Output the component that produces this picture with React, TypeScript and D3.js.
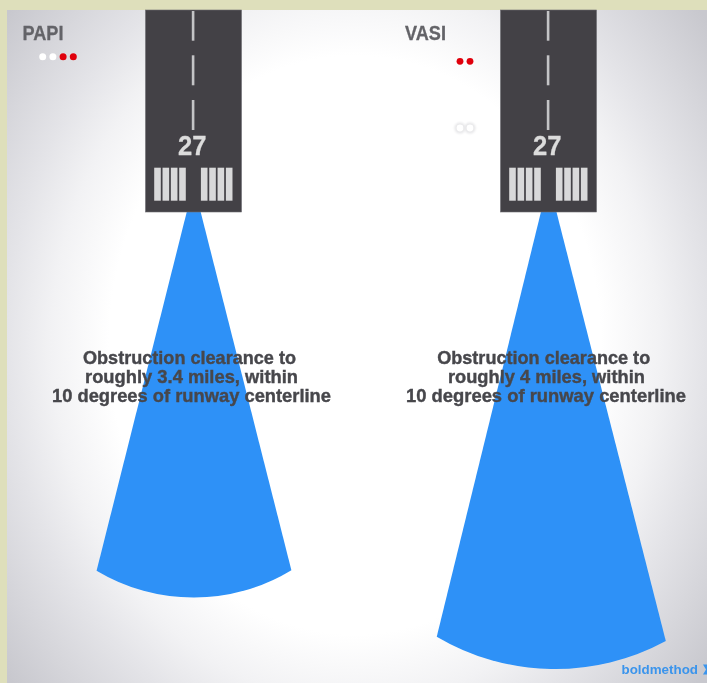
import React from "react";
import * as d3 from "d3";

const W = 707, H = 683;
const panels = ["PAPI", "VASI"];
const captions = [
  ["Obstruction clearance to", "roughly 3.4 miles, within", "10 degrees of runway centerline"],
  ["Obstruction clearance to", "roughly 4 miles, within", "10 degrees of runway centerline"],
];
const runwayNumber = "27";
const RED = "#e0000c";
const papiLights = ["#ffffff", "#ffffff", RED, RED];
const vasiLightRows = [[RED, RED], ["#ffffff", "#ffffff"]];

// Sector geometry, in miles from the threshold
const sectorDepth = [3.375, 4];
const sectorLeftAlong = [3.14, 3.717];
const sectorRightAlong = [3.135, 3.755];
const sectorLeftSide = [-0.85, -0.98];
const sectorRightSide = [0.855, 1.025];
const sectorTopHalf = [0.061, 0.068];

const dashes = [[11, 40.7], [55.3, 85.3], [100, 130]];
const threshold = [0, 1, 2, 3];

const pxPerMile = d3.scaleLinear().domain([0, 4]).range([0, 457]);
const RUNWAY_END = 212;
const centers = [193.7, 548.7];

function circleThrough(a: number[], b: number[], c: number[]) {
  const d = 2 * (a[0] * (b[1] - c[1]) + b[0] * (c[1] - a[1]) + c[0] * (a[1] - b[1]));
  const sq = (p: number[]) => p[0] * p[0] + p[1] * p[1];
  const x = (sq(a) * (b[1] - c[1]) + sq(b) * (c[1] - a[1]) + sq(c) * (a[1] - b[1])) / d;
  const y = (sq(a) * (c[0] - b[0]) + sq(b) * (a[0] - c[0]) + sq(c) * (b[0] - a[0])) / d;
  return { x, y, r: Math.hypot(a[0] - x, a[1] - y) };
}

function sector(i: number) {
  const cx = centers[i];
  const pt = (side: number, along: number) => [cx + pxPerMile(side), RUNWAY_END + pxPerMile(along)];
  const l = pt(sectorLeftSide[i], sectorLeftAlong[i]);
  const r = pt(sectorRightSide[i], sectorRightAlong[i]);
  const b = pt(0, sectorDepth[i]);
  const c = circleThrough(l, r, b);
  const p = d3.path();
  p.moveTo(cx - pxPerMile(sectorTopHalf[i]), RUNWAY_END);
  p.lineTo(l[0], l[1]);
  p.arc(c.x, c.y, c.r, Math.atan2(l[1] - c.y, l[0] - c.x), Math.atan2(r[1] - c.y, r[0] - c.x), true);
  p.lineTo(cx + pxPerMile(sectorTopHalf[i]), RUNWAY_END);
  p.closePath();
  return p.toString();
}

const lineWidths = [[213, 213, 279], [213, 197, 280]];
const lineCentres = [[189.5, 191.5, 191.5], [543.7, 546.4, 546]];

export default function App() {
  return (
    <svg width={W} height={H} style={{ position: "fixed", left: 0, top: 0 }} fontFamily="'Liberation Sans', sans-serif">
      <defs>
        <radialGradient id="bg" gradientUnits="userSpaceOnUse" cx={0} cy={0} r={526} gradientTransform="translate(355 345) scale(0.85 1)">
          <stop offset="0.55" stopColor="#ffffff" />
          <stop offset="0.68" stopColor="#f2f2f4" />
          <stop offset="0.78" stopColor="#e4e4e8" />
          <stop offset="1" stopColor="#c8c8ce" />
        </radialGradient>
        <filter id="blur" x="-5%" y="-20%" width="110%" height="140%"><feGaussianBlur stdDeviation="0.45" /></filter>
        <filter id="glow" x="-100%" y="-100%" width="300%" height="300%"><feGaussianBlur stdDeviation="1.2" /></filter>
      </defs>
      <rect width={W} height={H} fill="#dedfbb" />
      <rect x={7} y={10} width={W - 7} height={H - 10} fill="url(#bg)" />
      {panels.map((name, i) => {
        const cx = centers[i];
        const rx = i === 0 ? 145.5 : 500.5;
        return (
          <g key={name}>
            <path d={sector(i)} fill="#2d91f7" filter="url(#blur)" />
            <rect x={rx} y={10} width={96} height={202} fill="#434146" stroke="#6c6b70" strokeWidth={0.6} />
            {dashes.map((d, j) => (
              <rect key={j} x={rx + 46.3} y={d[0]} width={2.6} height={d[1] - d[0]} fill="#c4c4c6" />
            ))}
            <g filter="url(#blur)">
              <text x={rx + 46.7} y={155} textAnchor="middle" fontSize={28} fontWeight={700} fill="#dcdcdc" stroke="#dcdcdc" strokeWidth={0.3} textLength={28.5} lengthAdjust="spacingAndGlyphs">{runwayNumber}</text>
            </g>
            {[0, 46.7].map((offset) =>
              threshold.map((k) => (
                <rect
                  key={`${offset}${k}`}
                  x={rx + 8.7 + offset + k * 8.33}
                  y={167.7}
                  width={6.6}
                  height={33}
                  fill="#d9d9da"
                />
              ))
            )}
            <g filter="url(#blur)">
              <text x={i === 0 ? 22.5 : 405} y={39.5} fontSize={21} fontWeight={700} fill="#646468" stroke="#646468" strokeWidth={0.3} textLength={41} lengthAdjust="spacingAndGlyphs">{name}</text>
              {captions[i].map((line, j) => (
                <text key={j} x={lineCentres[i][j]} y={363.5 + j * 19.3} textAnchor="middle" fontSize={19} fontWeight={700} fill="#47474c" stroke="#47474c" strokeWidth={0.4} textLength={lineWidths[i][j]} lengthAdjust="spacingAndGlyphs">{line}</text>
              ))}
            </g>
          </g>
        );
      })}
      {papiLights.map((c, i) => (
        <circle key={i} cx={42.7 + i * 10.2} cy={56.7} r={3.5} fill={c} />
      ))}
      {vasiLightRows.map((row, r) =>
        row.map((c, i) => (
          <g key={`${r}${i}`}>
            {r === 1 && <circle cx={460 + i * 10} cy={128} r={5.5} fill="#e6e6e8" filter="url(#glow)" />}
            <circle cx={460 + i * 10} cy={r === 0 ? 61.3 : 128} r={3.4} fill={c} />
          </g>
        ))
      )}
      <g filter="url(#blur)">
        <text x={621.5} y={674} fontSize={13} fontWeight={700} fill="#3a94ec" textLength={76.5} lengthAdjust="spacingAndGlyphs">boldmethod</text>
        <path d="M703 664.5 L706 669.5 L703 674.5 L707 674.5 L707 664.5 Z" fill="#3a94ec" />
      </g>
    </svg>
  );
}
